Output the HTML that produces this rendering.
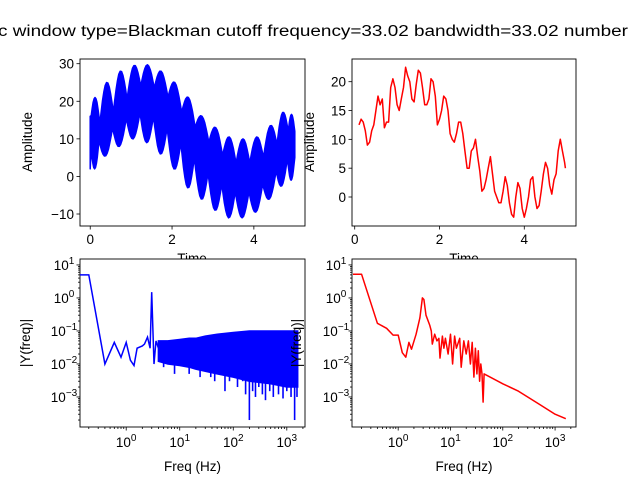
<!DOCTYPE html>
<html><head><meta charset="utf-8"><style>
body{margin:0;background:#fff;}
svg{display:block;font-family:"Liberation Sans","DejaVu Sans",sans-serif;}
</style></head><body>
<svg id="fig" width="640" height="480" viewBox="0 0 640 480">
<text x="-2" y="36" font-size="15.5" textLength="630" lengthAdjust="spacingAndGlyphs">c window type=Blackman cutoff frequency=33.02 bandwidth=33.02 number</text>
</svg>
<script>
// ---- data ----
const tlPeakT=[0.07,0.4,0.73,1.07,1.4,1.73,2.07,2.4,2.73,3.07,3.4,3.73,4.07,4.4,4.73,4.95];
const tlUpperPeak=[21,25,28,29.5,29.7,28,25,21,16,13,10.5,10,10.5,13.5,17,16.5];
const tlUpperCusp=[14,17,20.5,24,23.5,21,17,13,9,5.5,3.5,3.5,5,8.5,12];
const tlLowerTrough=[2,5.5,8,10,9,6,2,-3,-6,-9,-11,-11,-9.5,-6,-2.5,-1];
const tlLowerCusp=[9.5,13,15.5,17,16,13,9,5,1,-2,-4,-4,-2,1.5,5];
const trT=[0.1,0.15,0.2,0.25,0.3,0.35,0.4,0.45,0.5,0.55,0.6,0.65,0.7,0.75,0.8,0.85,0.9,0.95,1.0,1.05,1.1,1.15,1.2,1.25,1.3,1.35,1.4,1.45,1.5,1.55,1.6,1.65,1.7,1.75,1.8,1.85,1.9,1.95,2.0,2.05,2.1,2.15,2.2,2.25,2.3,2.35,2.4,2.45,2.5,2.55,2.6,2.65,2.7,2.75,2.8,2.85,2.9,2.95,3.0,3.05,3.1,3.15,3.2,3.25,3.3,3.35,3.4,3.45,3.5,3.55,3.6,3.65,3.7,3.75,3.8,3.85,3.9,3.95,4.0,4.05,4.1,4.15,4.2,4.25,4.3,4.35,4.4,4.45,4.5,4.55,4.6,4.65,4.7,4.75,4.8,4.85,4.9,4.95,4.97];
const trV=[12.5,13.5,13,11.5,9,9.5,11.5,12.5,15,17.5,16,17,12,13,13,19,20.5,19,16,15,17,19,22.5,21,20,17,16.5,19.5,22,21.5,19,16,16,17,20.5,20,17.5,12.5,13.5,15,17.5,17,15,11,10,9.5,11,13,13,11,8,5,5,8,8.5,10,7,4.5,1,1.5,3,5,7,4,1,0,-1,-1,1,3.5,2,-1,-3,-3.5,0,2.5,1.5,-2,-3.5,-2,0,3,3.5,0,-2,-1.5,1,4,6,5,2,0.5,3,4,8,10,8,6,5];
const blF=[0.137,0.2,0.4,0.6,0.8,1.0,1.2,1.4,1.6,2.0,2.2,2.5,2.8,3.0,3.3,3.6,4];
const blV=[5,5,0.01,0.045,0.016,0.045,0.013,0.009,0.03,0.035,0.04,0.065,0.03,1.5,0.01,0.05,0.03];
const blBandF=[4,6,10,15,20,30,50,100,200,500,1000,1600];
const blBandHi=[0.05,0.05,0.055,0.06,0.06,0.07,0.08,0.09,0.1,0.1,0.1,0.1];
const blBandLo=[0.012,0.01,0.009,0.008,0.007,0.006,0.005,0.004,0.003,0.0025,0.002,0.002];
const blSpikeF=[5,6.5,8,11,15,19,24,30,38,45,55,70,85,100,120,150,170,200,230,260,300,350,400,480,560,700,850,1000,1200,1400,1550];
const blSpikeV=[0.008,0.01,0.005,0.009,0.005,0.007,0.004,0.006,0.004,0.003,0.005,0.0015,0.003,0.004,0.002,0.003,0.0012,0.0002,0.0015,0.001,0.002,0.0012,0.0008,0.0015,0.001,0.0012,0.0009,0.0015,0.001,0.0002,0.001];
const brF=[0.137,0.2,0.4,0.6,0.8,1.0,1.2,1.4,1.6,1.8,2.2,2.6,2.9,3.1,3.4,4,4.3,4.5,5,5.5,6,6.3,7,7.5,8,9,10,11,12,13,15,16,18,20,22,24,26,28,30,32,34,36,38,40,42,44,50,100,200,500,1000,1600];
const brV=[5.2,5.2,0.17,0.12,0.075,0.075,0.022,0.016,0.045,0.028,0.08,0.25,1.0,0.9,0.3,0.15,0.1,0.04,0.08,0.05,0.06,0.015,0.07,0.03,0.06,0.02,0.08,0.01,0.07,0.03,0.06,0.008,0.05,0.02,0.05,0.01,0.045,0.004,0.03,0.005,0.025,0.003,0.01,0.005,0.0007,0.005,0.0045,0.0025,0.0015,0.0006,0.0003,0.00022];
const tlYTicks=[-10,0,10,20,30];
const trYTicks=[0,5,10,15,20];
const tXTicks=[0,2,4];
const logTicks=[-3,-2,-1,0,1];
const logXTicks=[0,1,2,3];

// ---- helpers ----
const NS="http://www.w3.org/2000/svg";
const svg=document.getElementById('fig');
function el(tag,attrs,parent){const e=document.createElementNS(NS,tag);for(const k in attrs)e.setAttribute(k,attrs[k]);(parent||svg).appendChild(e);return e;}
function lin(d0,d1,p0,p1){return v=>p0+(v-d0)/(d1-d0)*(p1-p0);}
function logs(d0,d1,p0,p1){return v=>p0+(Math.log10(v)-d0)/(d1-d0)*(p1-p0);}
function txt(x,y,s,anchor,size,name,rot){const t=el('text',{x:x,y:y,'font-size':size||13.5,'text-anchor':anchor||'middle'});t.textContent=s;


if(rot)t.setAttribute('transform','rotate(-90 '+x+' '+y+')');return t;}
function frame(x0,y0,x1,y1,name){const r=el('rect',{x:x0,y:y0,width:x1-x0,height:y1-y0,fill:'#fff',stroke:'#000','stroke-width':0.9});

}
function tick(x1,y1,x2,y2){el('line',{x1:x1,y1:y1,x2:x2,y2:y2,stroke:'#000','stroke-width':0.8});}
function sup(x,y,base,exp,name){const t=el('text',{x:x,y:y,'font-size':13.5,'text-anchor':'middle'});


const a=document.createElementNS(NS,'tspan');a.textContent=base;t.appendChild(a);
const b=document.createElementNS(NS,'tspan');b.setAttribute('dy','-6');b.setAttribute('font-size','10');b.textContent=exp;t.appendChild(b);}
function pathD(xs,ys,fx,fy){return xs.map((v,i)=>(i?'L':'M')+fx(v).toFixed(1)+' '+fy(ys[i]).toFixed(1)).join(' ');}
function lobes(peakT,peakV,cuspV,shift){
  const cT=[0],cV=[cuspV[0]];
  for(let i=0;i<cuspV.length;i++){cT.push((peakT[i]+peakT[i+1])/2+shift);cV.push(cuspV[i]);}
  cT[0]=0;cV[0]=cuspV[0];cT.push(5);cV.push(cuspV[cuspV.length-1]);
  const pts=[];
  for(let i=0;i<cT.length-1;i++){
    const a=cT[i],b=cT[i+1],ca=cV[i],cb=cV[i+1],p=peakV[Math.min(i,peakV.length-1)];
    for(let s=0;s<=10;s++){const u=s/10;const base=ca+(cb-ca)*u;const pk=p-(ca+cb)/2;pts.push([a+(b-a)*u,base+pk*Math.sin(Math.PI*u)]);}
  }
  return pts;}

txt(192,263,'Time','middle',13.5,'x-axis-title-time-left');
txt(464,263,'Time','middle',13.5,'x-axis-title-time-right');

// ---- top-left ----
{const X0=80,X1=305,Y0=59,Y1=226;
frame(X0,Y0,X1,Y1,'time-signal-axes');
const fx=lin(-0.25,5.25,X0,X1),fy=lin(30,-10,63.7,214);
const up=lobes(tlPeakT,tlUpperPeak,tlUpperCusp,0);
const lo=lobes(tlPeakT,tlLowerTrough,tlLowerCusp,-0.02);
up[0][1]=16;lo[0][1]=2;
const d='M'+up.map(p=>fx(p[0]).toFixed(1)+' '+fy(p[1]).toFixed(1)).join(' L')+' L'+lo.reverse().map(p=>fx(p[0]).toFixed(1)+' '+fy(p[1]).toFixed(1)).join(' L')+'Z';
const p=el('path',{d:d,fill:'#0000ff',stroke:'#0000ff','stroke-width':1.5,'stroke-linejoin':'round'});


tlYTicks.forEach(v=>{tick(X0-3.5,fy(v),X0,fy(v));txt(X0-6,fy(v)+5,v<0?'\u2212'+(-v):String(v),'end',13.5,'y-tick-label');});
tXTicks.forEach(v=>{tick(fx(v),Y1,fx(v),Y1+3.5);txt(fx(v),Y1+18,String(v),'middle',13.5,'x-tick-label');});
txt(32,142,'Amplitude','middle',13.5,'y-axis-title-left',true);
}
// ---- top-right ----
{const X0=352,X1=576,Y0=59,Y1=226;
frame(X0,Y0,X1,Y1,'filtered-signal-axes');
const fx=lin(-0.064,5.22,X0,X1),fy=lin(20,0,81.7,197);
const p=el('path',{d:pathD(trT,trV,fx,fy),fill:'none',stroke:'#ff0000','stroke-width':1.5,'stroke-linejoin':'round'});


trYTicks.forEach(v=>{tick(X0-3.5,fy(v),X0,fy(v));txt(X0-6,fy(v)+5,String(v),'end',13.5,'y-tick-label');});
tXTicks.forEach(v=>{tick(fx(v),Y1,fx(v),Y1+3.5);txt(fx(v),Y1+18,String(v),'middle',13.5,'x-tick-label');});
txt(314,142,'Amplitude','middle',13.5,'y-axis-title-right',true);
}
function logAxes(X0,X1,xd0,xd1,name){
const Y0=259,Y1=427;
frame(X0,Y0,X1,Y1,name);
const fx=logs(xd0,xd1,X0,X1),fy=logs(-3.91,1.18,Y1,Y0);
logTicks.forEach(e=>{tick(X0-3.5,fy(Math.pow(10,e)),X0,fy(Math.pow(10,e)));sup(X0-16,fy(Math.pow(10,e))+5,'10',e<0?'\u2212'+(-e):String(e),'y-tick-label');
for(let m=2;m<10;m++){const v=m*Math.pow(10,e);const y=fy(v);if(y>Y0&&y<Y1)tick(X0-2,y,X0,y);}});
for(let m=2;m<10;m++){const y=fy(m*1e-4);if(y>Y0&&y<Y1)tick(X0-2,y,X0,y);}
logXTicks.forEach(e=>{const x=fx(Math.pow(10,e));tick(x,Y1,x,Y1+3.5);sup(x,Y1+20,'10',String(e),'x-tick-label');});
for(let e=-1;e<4;e++)for(let m=2;m<10;m++){const x=fx(m*Math.pow(10,e));if(x>X0&&x<X1)tick(x,Y1,x,Y1+2);}
txt((X0+X1)/2,471,'Freq (Hz)','middle',13.5,'x-axis-title-freq');
return {fx,fy};}
// ---- bottom-left ----
{const {fx,fy}=logAxes(80,305,-0.863,3.34,'spectrum-axes');
const d='M'+blBandF.map((f,i)=>fx(f).toFixed(1)+' '+fy(blBandHi[i]).toFixed(1)).join(' L')+' L'+blBandF.slice().reverse().map((f,i)=>fx(f).toFixed(1)+' '+fy(blBandLo[blBandF.length-1-i]).toFixed(1)).join(' L')+'Z';
const b=el('path',{d:d,fill:'#0000ff',stroke:'#0000ff','stroke-width':1.5});


const p=el('path',{d:pathD(blF,blV,fx,fy),fill:'none',stroke:'#0000ff','stroke-width':1.5});


blSpikeF.forEach((f,i)=>{const l=el('line',{x1:fx(f),x2:fx(f),y1:fy(0.02),y2:fy(blSpikeV[i]),stroke:'#0000ff','stroke-width':1.6});

});
txt(30,343,'|Y(freq)|','middle',13.5,'y-axis-title-left-spectrum',true);
}
// ---- bottom-right ----
{const {fx,fy}=logAxes(352,576,-0.883,3.4,'filtered-spectrum-axes');
const p=el('path',{d:pathD(brF,brV,fx,fy),fill:'none',stroke:'#ff0000','stroke-width':1.5,'stroke-linejoin':'round'});


txt(301,343,'|Y(freq)|','middle',13.5,'y-axis-title-right-spectrum',true);
}
</script>
</body></html>
